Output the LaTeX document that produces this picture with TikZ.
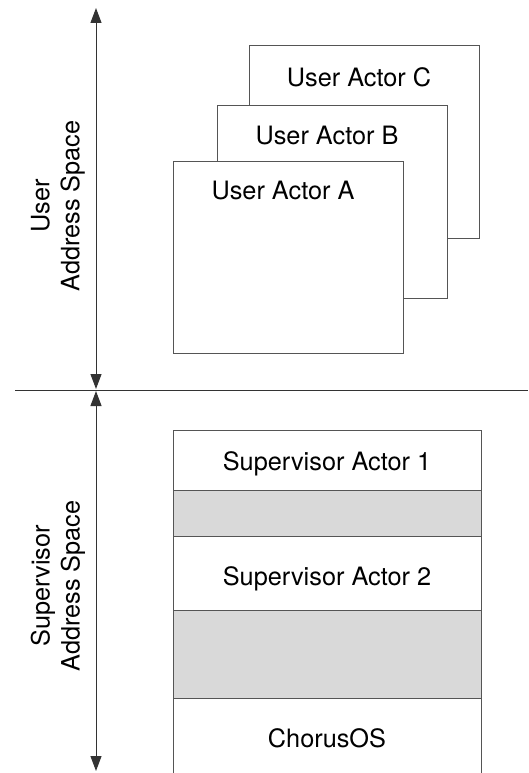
\documentclass[tikz,border=0pt]{standalone}
\usepackage{fontspec}
\setmainfont{TeX Gyre Heros}
\usepackage{tikz}
\usetikzlibrary{arrows.meta, positioning}
\definecolor{edgegray}{HTML}{555555}
\definecolor{gapfill}{HTML}{D9D9D9}
\definecolor{axisline}{HTML}{333333}

\begin{document}
\begin{tikzpicture}[
    x=1pt, y=-1pt,
    every node/.style={font=\fontsize{25.3}{30}\selectfont},
    actorbox/.style={
        rectangle, draw=edgegray, fill=white, line width=1pt,
        minimum width=230pt, minimum height=192pt,
        anchor=north west, inner sep=0pt, outer sep=0pt
    },
    layer/.style={
        rectangle, draw=edgegray, fill=white, line width=1pt,
        minimum width=308pt, inner sep=0pt, outer sep=0pt
    },
    gaplayer/.style={layer, fill=gapfill},
    spanline/.style={
        {Triangle[length=15pt, width=11pt]}-{Triangle[length=15pt, width=11pt]},
        line width=1pt, color=axisline
    },
    spacelabel/.style={rotate=90, align=center},
]
\useasboundingbox (0,0) rectangle (528,773);

%% ============ USER ADDRESS SPACE ============
\node[actorbox] (actorC) at (249,46) {};
\node (actorCtxt) at ([xshift=-5pt, yshift=-31pt]actorC.north) {User Actor C};

\node[actorbox] (actorB) at (217,106) {};
\node (actorBtxt) at ([xshift=-5pt, yshift=-30pt]actorB.north) {User Actor B};

\node[actorbox] (actorA) at (173,161) {};
\node (actorAtxt) at ([xshift=-5pt, yshift=-30pt]actorA.north) {User Actor A};

%% ============ SUPERVISOR ADDRESS SPACE ============
\node[layer, anchor=north west, minimum height=60pt] (sup1) at (173,430) {};
\node[gaplayer, minimum height=46pt, below=0pt of sup1] (gap1) {};
\node[layer, minimum height=74pt, below=0pt of gap1] (sup2) {};
\node[gaplayer, minimum height=88pt, below=0pt of sup2] (gap2) {};
% bottom edge runs off the page
\node[layer, minimum height=80pt, below=0pt of gap2] (chorus) {};

\node (sup1txt) at ([yshift=-4pt]sup1.center) {Supervisor Actor 1};
\node (sup2txt) at ([yshift=-6pt]sup2.center) {Supervisor Actor 2};
\node (chorustxt) at (chorus.center) {ChorusOS};

%% ============ DIVIDER AND SPANS ============
\coordinate (divl) at (15,390);
\coordinate (divr) at (528,390);
\draw[axisline, line width=1pt] (divl) -- (divr);

\coordinate (utop) at (96,8);
\coordinate (ubot) at (96,389);
\coordinate (stop) at (96,391);
\coordinate (sbot) at (96,771);
\draw[spanline] (utop) -- (ubot);
\draw[spanline] (stop) -- (sbot);

\node[spacelabel] (userlbl) at (58,206) {User\\Address Space};
\node[spacelabel] (suplbl) at (58,586) {Supervisor\\Address Space};

\end{tikzpicture}
\end{document}
